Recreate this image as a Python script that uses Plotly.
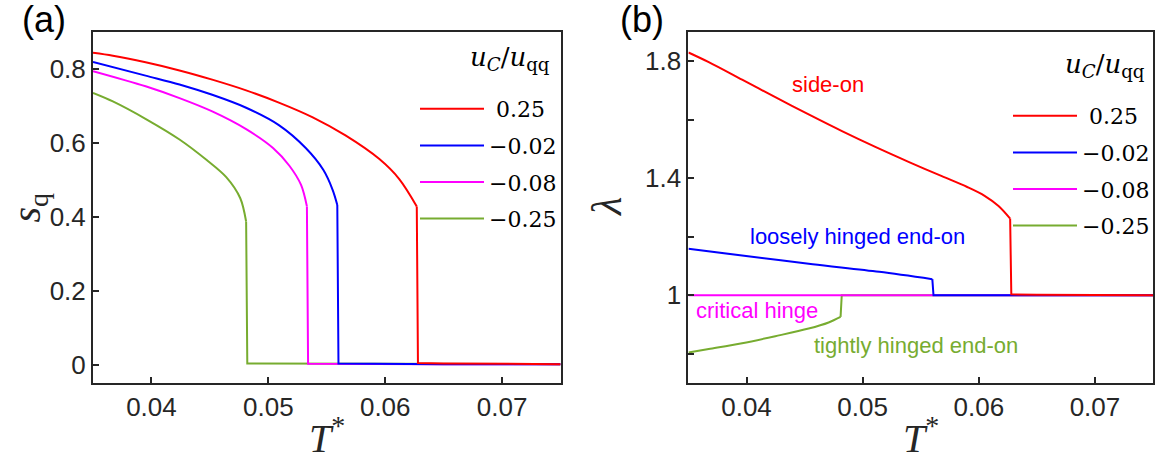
import plotly.graph_objects as go

# ---------------- data ----------------
series_labels = ["\u00a00.25", "\u22120.02", "\u22120.08", "\u22120.25"]
colors = ["#FF0000", "#0000FF", "#FF00FF", "#77AC30"]
legend_title = "<i>u</i><sub><i>C</i></sub>/<i>u</i><sub>qq</sub>"
x_title = "<i>T</i><sup>*</sup>"
ya_title = "<i>s</i><sub>q</sub>"
yb_title = "<i>\u03bb</i>"

# panel (a): s_q vs T*  (smooth branch, then jump + tail)
Ta_red = [0.035, 0.0367, 0.0395, 0.0424, 0.0452, 0.0481, 0.0509, 0.0538, 0.0566, 0.0595, 0.0612, 0.0627]
sa_red = [0.844, 0.836, 0.818, 0.796, 0.771, 0.742, 0.709, 0.669, 0.620, 0.556, 0.502, 0.428]
Ta_red_tail = [0.0627, 0.0628, 0.065, 0.070, 0.075]
sa_red_tail = [0.428, 0.004, 0.003, 0.002, 0.001]

Ta_blue = [0.035, 0.0395, 0.0424, 0.0452, 0.0481, 0.0509, 0.0532, 0.0547, 0.0555, 0.0559]
sa_blue = [0.819, 0.782, 0.758, 0.730, 0.695, 0.648, 0.586, 0.527, 0.473, 0.432]
Ta_blue_tail = [0.0559, 0.0560, 0.065, 0.075]
sa_blue_tail = [0.432, 0.003, 0.001, 0.001]

Ta_mag = [0.035, 0.0395, 0.0424, 0.0452, 0.0481, 0.0504, 0.0518, 0.0528, 0.0533]
sa_mag = [0.794, 0.753, 0.721, 0.685, 0.637, 0.586, 0.538, 0.486, 0.428]
Ta_mag_tail = [0.0533, 0.0534, 0.065, 0.075]
sa_mag_tail = [0.428, 0.002, 0.001, 0.001]

Ta_green = [0.035, 0.0367, 0.0396, 0.0424, 0.0447, 0.0464, 0.0476, 0.0481]
sa_green = [0.735, 0.712, 0.663, 0.609, 0.554, 0.507, 0.450, 0.387]
Ta_green_tail = [0.0481, 0.0482, 0.060, 0.075]
sa_green_tail = [0.387, 0.003, 0.002, 0.001]

# panel (b): lambda vs T*
Tb_red = [0.035, 0.03675, 0.03962, 0.04248, 0.04535, 0.04822, 0.05109, 0.05395, 0.05682, 0.0590, 0.0605, 0.0617, 0.0627]
lb_red = [1.830, 1.797, 1.737, 1.677, 1.618, 1.561, 1.507, 1.456, 1.407, 1.370, 1.340, 1.305, 1.262]
Tb_red_tail = [0.0627, 0.0628, 0.065, 0.070, 0.075]
lb_red_tail = [1.262, 1.003, 1.002, 1.001, 1.000]

Tb_blue = [0.035, 0.03996, 0.0457, 0.05143, 0.0560]
lb_blue = [1.159, 1.134, 1.106, 1.080, 1.055]
Tb_blue_tail = [0.0560, 0.0561, 0.065, 0.075]
lb_blue_tail = [1.055, 1.000, 1.000, 1.000]

Tb_mag = [0.035, 0.045, 0.055, 0.065, 0.075]
lb_mag = [1.000, 1.000, 1.000, 1.000, 1.000]

Tb_green = [0.035, 0.03675, 0.03962, 0.04248, 0.04535, 0.04707, 0.0481]
lb_green = [0.804, 0.816, 0.836, 0.860, 0.886, 0.907, 0.926]
Tb_green_tail = [0.0481, 0.0482, 0.060, 0.075]
lb_green_tail = [0.926, 1.000, 1.000, 1.000]

xticks = [0.04, 0.05, 0.06, 0.07]
xticklabels = ["0.04", "0.05", "0.06", "0.07"]
ya_ticks = [0, 0.2, 0.4, 0.6, 0.8]
ya_ticklabels = ["0", "0.2", "0.4", "0.6", "0.8"]
yb_ticks = [0.8, 1.0, 1.2, 1.4, 1.6, 1.8]
yb_ticklabels = ["", "1", "", "1.4", "", "1.8"]

# ---------------- figure ----------------
fig = go.Figure()

# drawing order: green, magenta, blue, red (red on top)
panel_a = [(Ta_green, sa_green, Ta_green_tail, sa_green_tail, 3),
           (Ta_mag, sa_mag, Ta_mag_tail, sa_mag_tail, 2),
           (Ta_blue, sa_blue, Ta_blue_tail, sa_blue_tail, 1),
           (Ta_red, sa_red, Ta_red_tail, sa_red_tail, 0)]
panel_b = [(Tb_green, lb_green, Tb_green_tail, lb_green_tail, 3),
           (Tb_mag, lb_mag, None, None, 2),
           (Tb_blue, lb_blue, Tb_blue_tail, lb_blue_tail, 1),
           (Tb_red, lb_red, Tb_red_tail, lb_red_tail, 0)]


def add_series(T, v, Tt, vt, i, leg, grp, xa, ya):
    fig.add_trace(go.Scatter(x=T, y=v, mode="lines",
                             line=dict(color=colors[i], width=2, shape="spline", smoothing=0.9),
                             name=series_labels[i], legend=leg, legendgroup=grp, legendrank=i + 1,
                             xaxis=xa, yaxis=ya))
    if Tt is not None:
        fig.add_trace(go.Scatter(x=Tt, y=vt, mode="lines", line=dict(color=colors[i], width=2),
                                 name=series_labels[i], legend=leg, legendgroup=grp, showlegend=False,
                                 xaxis=xa, yaxis=ya))


for T, v, Tt, vt, i in panel_a:
    add_series(T, v, Tt, vt, i, "legend", "a%d" % i, "x", "y")
for T, v, Tt, vt, i in panel_b:
    add_series(T, v, Tt, vt, i, "legend2", "b%d" % i, "x2", "y2")

W, H = 1156, 464
ML, MR, MT, MB = 93, 2, 32, 81
PW, PH = W - ML - MR, H - MT - MB


def px(xp):   # figure pixel x -> paper x
    return (xp - ML) / PW


def py(yp):   # figure pixel y -> paper y
    return (H - MB - yp) / PH


axis_col = "#262626"
tick_font = dict(family="Liberation Sans, Arial, sans-serif", size=26, color=axis_col)
common_x = dict(range=[0.035, 0.075], tickvals=xticks, ticktext=xticklabels, ticks="inside", ticklen=6,
                tickwidth=1.5, tickcolor=axis_col, showline=True, linecolor=axis_col, linewidth=2,
                mirror=True, showgrid=False, zeroline=False, tickfont=tick_font)
common_y = dict(ticks="inside", ticklen=6, tickwidth=1.5, tickcolor=axis_col, showline=True, linecolor=axis_col,
                linewidth=2, mirror=True, showgrid=False, zeroline=False, tickfont=tick_font)

leg_common = dict(bgcolor="rgba(0,0,0,0)", borderwidth=0, traceorder="grouped", tracegroupgap=5,
                  itemwidth=64, font=dict(family="DejaVu Serif, serif", size=22, color="#000000"),
                  xanchor="right", yanchor="top")

fig.update_layout(
    width=W, height=H, margin=dict(l=ML, r=MR, t=MT, b=MB),
    paper_bgcolor="white", plot_bgcolor="white",
    xaxis=dict(domain=[0, px(561)], anchor="y", **common_x),
    yaxis=dict(domain=[0, 1], anchor="x", range=[-0.05, 0.9], tickvals=ya_ticks,
               ticktext=ya_ticklabels, **common_y),
    xaxis2=dict(domain=[px(689), px(1154)], anchor="y2", **common_x),
    yaxis2=dict(domain=[0, 1], anchor="x2", range=[0.7, 1.9], tickvals=yb_ticks,
                ticktext=yb_ticklabels, **common_y),
    legend=dict(x=px(562), y=py(88), **leg_common),
    legend2=dict(x=px(1155), y=py(95), **leg_common),
    showlegend=True,
)

# axis titles
title_font = dict(family="Liberation Serif, serif", size=40, color=axis_col)
for xc in [327, 921.5]:
    fig.add_annotation(text=x_title, x=px(xc), y=py(463), xref="paper", yref="paper", showarrow=False,
                       xanchor="center", yanchor="bottom", font=title_font)
fig.add_annotation(text=ya_title, x=px(1), y=py(207.5), xref="paper", yref="paper", showarrow=False,
                   xanchor="left", yanchor="middle", textangle=-90,
                   font=dict(family="Liberation Serif, serif", size=40, color=axis_col))
fig.add_annotation(text=yb_title, x=px(607), y=py(207.5), xref="paper", yref="paper", showarrow=False,
                   xanchor="center", yanchor="middle", textangle=-90,
                   font=dict(family="Liberation Serif, serif", size=42, color=axis_col))

# legend titles
for xr, yc in [(552, 58), (1148, 65)]:
    fig.add_annotation(text=legend_title, x=px(xr), y=py(yc), xref="paper", yref="paper", showarrow=False,
                       xanchor="right", yanchor="middle",
                       font=dict(family="DejaVu Serif, serif", size=26, color="#000000"))

ann_font = "Liberation Sans, Arial, sans-serif"
fig.add_annotation(text="(a)", x=px(44), y=py(20), xref="paper", yref="paper", showarrow=False,
                   xanchor="center", yanchor="middle", font=dict(family=ann_font, size=36, color="#000000"))
fig.add_annotation(text="(b)", x=px(643), y=py(20), xref="paper", yref="paper", showarrow=False,
                   xanchor="center", yanchor="middle", font=dict(family=ann_font, size=36, color="#000000"))

labels_b = [("side-on", 0.04704, 1.720, colors[0]),
            ("loosely hinged end-on", 0.04954, 1.201, colors[1]),
            ("critical hinge", 0.04094, 0.949, colors[2]),
            ("tightly hinged end-on", 0.05461, 0.829, colors[3])]
for txt, xv, yv, c in labels_b:
    fig.add_annotation(text=txt, x=xv, y=yv, xref="x2", yref="y2", showarrow=False,
                       font=dict(family=ann_font, size=22, color=c))

fig.write_html("out.html")
